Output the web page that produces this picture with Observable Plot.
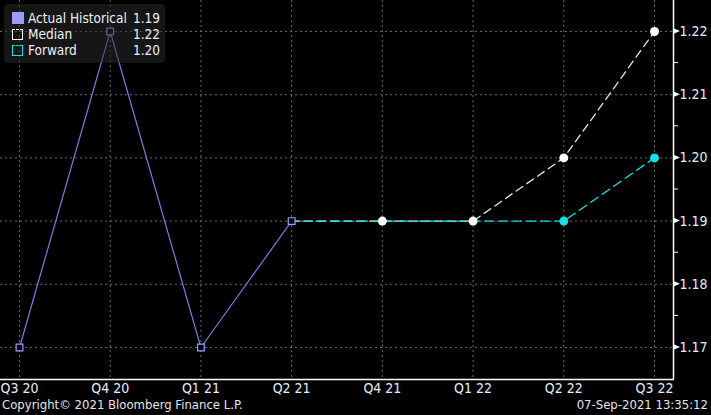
<!DOCTYPE html>
<html><head><meta charset="utf-8">
<script src="https://cdn.jsdelivr.net/npm/d3@7"></script>
<script src="https://cdn.jsdelivr.net/npm/@observablehq/plot@0.6"></script>
<style>
html,body{margin:0;padding:0;background:#000;}
body{width:711px;height:415px;overflow:hidden;font-family:"DejaVu Sans Condensed","DejaVu Sans",sans-serif;font-stretch:condensed;}
#wrap{position:relative;width:711px;background:#000;}
#chart{position:relative;z-index:1;}
#legend{position:absolute;z-index:2;left:4px;top:4px;width:161px;height:59px;background:rgba(41,41,41,0.53);border-radius:4px;color:#f0f0f0;font-size:13.5px;}
.row{position:absolute;left:0;height:16px;line-height:16px;width:161px;}
.sw{position:absolute;left:8px;top:3px;width:11px;height:11px;box-sizing:border-box;}
.lab{position:absolute;left:24px;}
.val{position:absolute;right:5px;}
#footer{position:relative;height:18px;color:#e6e6e6;font-size:13px;line-height:18px;}
#footer .l{position:absolute;left:2px;top:-1px;}
#footer .r{position:absolute;right:3px;top:-1px;}
svg text{font-stretch:condensed;}
</style></head>
<body>
<div id="wrap">
<div id="chart"></div>
<div id="legend"></div>
<div id="footer"><span class="l">Copyright© 2021 Bloomberg Finance L.P.</span><span class="r">07-Sep-2021 13:35:12</span></div>
</div>
<script>
const quarters = ["Q3 20","Q4 20","Q1 21","Q2 21","Q4 21","Q1 22","Q2 22","Q3 22"];
const actualQ = ["Q3 20","Q4 20","Q1 21","Q2 21"];
const actualV = [1.17,1.22,1.17,1.19];
const medianQ = ["Q2 21","Q4 21","Q1 22","Q2 22","Q3 22"];
const medianV = [1.19,1.19,1.19,1.20,1.22];
const forwardQ = ["Q2 21","Q4 21","Q1 22","Q2 22","Q3 22"];
const forwardV = [1.19,1.19,1.19,1.19,1.20];
const medianDotQ = ["Q4 21","Q1 22","Q2 22","Q3 22"];
const medianDotV = [1.19,1.19,1.20,1.22];
const forwardDotQ = ["Q2 22","Q3 22"];
const forwardDotV = [1.19,1.20];
const yTicks = [1.17,1.18,1.19,1.20,1.21,1.22];
const yMinor = [1.175,1.185,1.195,1.205,1.215];
const legendNames = ["Actual Historical","Median","Forward"];
const legendVals = ["1.19","1.22","1.20"];
const legendColors = ["#9c9cff","#ffffff","#19e0e0"];

const actual = actualQ.map((q,i)=>({q,v:actualV[i]}));
const median = medianQ.map((q,i)=>({q,v:medianV[i]}));
const forward = forwardQ.map((q,i)=>({q,v:forwardV[i]}));
const mDots = medianDotQ.map((q,i)=>({q,v:medianDotV[i]}));
const fDots = forwardDotQ.map((q,i)=>({q,v:forwardDotV[i]}));

const W=711,H=397,plotRight=673,plotBottom=379;
const FONT="'DejaVu Sans Condensed','DejaVu Sans',sans-serif";
const chart = Plot.plot({
  width:W,height:H,
  marginLeft:0,marginRight:W-plotRight,marginTop:0,marginBottom:H-plotBottom,
  style:{background:"transparent",color:"#e8eef8",fontFamily:FONT,fontSize:"13px"},
  x:{type:"point",domain:quarters,padding:0.2094,round:false,axis:null,label:null},
  y:{domain:[1.16494,1.2249],axis:null,label:null},
  marks:[
    Plot.ruleX(quarters,{x:d=>d,stroke:"#6a6a6a",strokeDasharray:"2,3",strokeWidth:1}),
    Plot.ruleY(yTicks,{y:d=>d,stroke:"#6a6a6a",strokeDasharray:"2,3",strokeWidth:1}),
    Plot.line(median,{x:"q",y:"v",stroke:"#e8e8e8",strokeWidth:1.3,strokeDasharray:"8,5"}),
    Plot.line(forward,{x:"q",y:"v",stroke:"#19e0e0",strokeWidth:1.3,strokeDasharray:"9,5",strokeDashoffset:3}),
    Plot.line(actual,{x:"q",y:"v",stroke:"#7c7ce0",strokeWidth:1.2}),
    Plot.dot(actual,{x:"q",y:"v",symbol:"square",r:3.8,stroke:"#9c9cff",fill:"#000",strokeWidth:1.2}),
    Plot.dot(mDots,{x:"q",y:"v",r:4.5,fill:"#ffffff",stroke:"none"}),
    Plot.dot(fDots,{x:"q",y:"v",r:4.5,fill:"#19e0e0",stroke:"none"}),
    Plot.axisY(yTicks,{anchor:"right",label:null,tickSize:0,tickPadding:6,tickFormat:d3.format(".2f"),fill:"#e8eef8",fontSize:14}),
    Plot.axisX(quarters,{anchor:"bottom",label:null,tickSize:0,tickPadding:4,fill:"#e8eef8",fontSize:14})
  ]
});
document.getElementById("chart").appendChild(chart);

const svg = d3.select(chart);
const ys = chart.scale("y");
const g = svg.append("g");
g.append("line").attr("x1",plotRight+0.5).attr("x2",plotRight+0.5).attr("y1",0).attr("y2",plotBottom).attr("stroke","#fff").attr("stroke-width",1.5);
g.append("line").attr("x1",0).attr("x2",plotRight+1).attr("y1",plotBottom+0.5).attr("y2",plotBottom+0.5).attr("stroke","#fff").attr("stroke-width",1.5);
yTicks.forEach(t=>{const y=ys.apply(t);g.append("path").attr("d",`M${plotRight},${y-3}L${plotRight+7},${y}L${plotRight},${y+3}Z`).attr("fill","#fff");});
yMinor.forEach(t=>{const y=ys.apply(t);g.append("line").attr("x1",plotRight).attr("x2",plotRight+5).attr("y1",y).attr("y2",y).attr("stroke","#fff");});

const lg = document.getElementById("legend");
legendNames.forEach((n,i)=>{
  const r=document.createElement("div");r.className="row";r.style.top=(6+i*16)+"px";
  const sw=document.createElement("div");sw.className="sw";
  if(i===0){sw.style.background=legendColors[i];sw.style.height="12px";sw.style.width="12px";sw.style.top="2px";}
  else{sw.style.borderLeft="1.5px solid "+legendColors[i];sw.style.borderRight="1.5px solid "+legendColors[i];sw.style.borderBottom="1.5px solid "+legendColors[i];sw.style.borderTop="1.5px dashed "+legendColors[i];}
  r.appendChild(sw);
  const l=document.createElement("span");l.className="lab";l.textContent=n;r.appendChild(l);
  const v=document.createElement("span");v.className="val";v.textContent=legendVals[i];r.appendChild(v);
  lg.appendChild(r);
});
</script>
</body></html>
